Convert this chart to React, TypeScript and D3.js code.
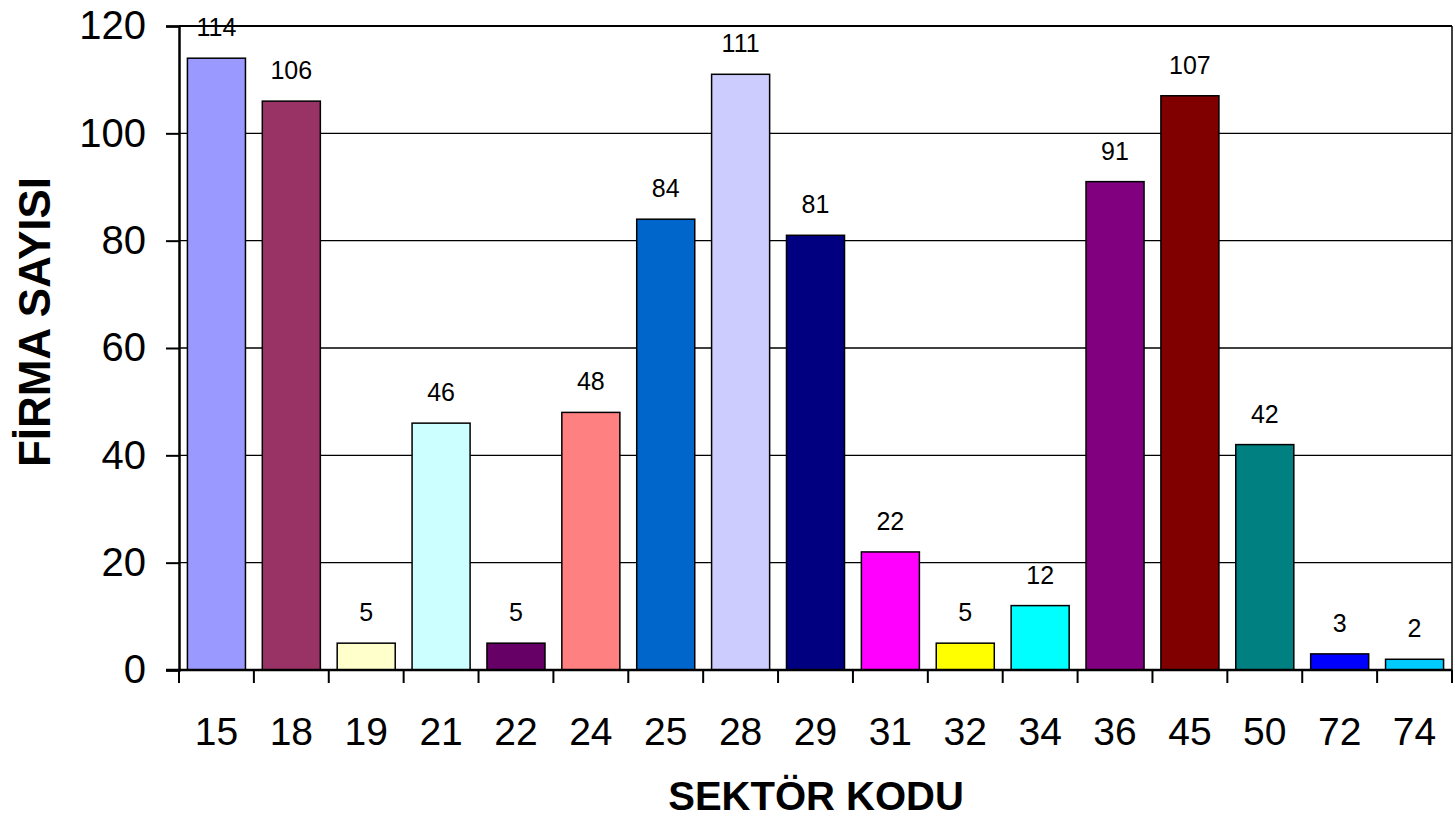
import React, { useRef, useEffect } from 'react';
import * as d3 from 'd3';

const sectors = ['15', '18', '19', '21', '22', '24', '25', '28', '29', '31', '32', '34', '36', '45', '50', '72', '74'];
const firmCounts = [114, 106, 5, 46, 5, 48, 84, 111, 81, 22, 5, 12, 91, 107, 42, 3, 2];
const barColors = ['#9999FF', '#993366', '#FFFFCC', '#CCFFFF', '#660066', '#FF8080', '#0066CC', '#CCCCFF', '#000080', '#FF00FF', '#FFFF00', '#00FFFF', '#800080', '#800000', '#008080', '#0000FF', '#00CCFF'];
const yTicks = [0, 20, 40, 60, 80, 100, 120];

const App = () => {
    const svgRef = useRef<SVGSVGElement>(null);
    const width = 1455;
    const height = 820;

    useEffect(() => {
        document.body.style.margin = '0';
        const svg = d3.select(svgRef.current)
            .attr('width', width)
            .attr('height', height);

        svg.selectAll('*').remove();

        const margin = { top: 26, right: 3, bottom: 150, left: 179 };
        const innerWidth = width - margin.left - margin.right;
        const innerHeight = height - margin.top - margin.bottom;
        const font = 'Liberation Sans, Arial, sans-serif';

        const g = svg.append('g')
            .attr('transform', `translate(${margin.left}, ${margin.top})`);

        const data = sectors.map((s, i) => ({ sector: s, value: firmCounts[i], color: barColors[i] }));

        const xScale = d3.scaleBand()
            .domain(sectors)
            .range([0, innerWidth])
            .paddingInner(0.225)
            .paddingOuter(0.1125);

        const yScale = d3.scaleLinear()
            .domain([0, 120])
            .range([innerHeight, 0]);

        // gridlines
        g.selectAll('.grid')
            .data(yTicks.filter(t => t > 0))
            .enter()
            .append('line')
            .attr('x1', 0)
            .attr('x2', innerWidth)
            .attr('y1', d => yScale(d))
            .attr('y2', d => yScale(d))
            .attr('stroke', '#000')
            .attr('stroke-width', d => d === 120 ? 2 : 1.3);

        // right border
        g.append('line')
            .attr('x1', innerWidth).attr('x2', innerWidth)
            .attr('y1', 0).attr('y2', innerHeight)
            .attr('stroke', '#000')
            .attr('stroke-width', 1.5);

        // bars
        g.selectAll('.bar')
            .data(data)
            .enter()
            .append('rect')
            .attr('x', d => xScale(d.sector)!)
            .attr('y', d => yScale(d.value))
            .attr('width', xScale.bandwidth())
            .attr('height', d => innerHeight - yScale(d.value))
            .attr('fill', d => d.color)
            .attr('stroke', '#000')
            .attr('stroke-width', 1.5);

        // value labels
        g.selectAll('.label')
            .data(data)
            .enter()
            .append('text')
            .attr('x', d => xScale(d.sector)! + xScale.bandwidth() / 2)
            .attr('y', d => yScale(d.value) - 22)
            .attr('text-anchor', 'middle')
            .attr('font-family', font)
            .attr('font-size', 25)
            .text(d => d.value);

        // y axis
        const yAxis = d3.axisLeft(yScale)
            .tickValues(yTicks)
            .tickSize(13)
            .tickPadding(20);

        const yg = g.append('g').call(yAxis);
        yg.select('.domain').attr('stroke-width', 2.5);
        yg.selectAll('.tick line').attr('stroke-width', 2);
        yg.selectAll('.tick text')
            .attr('font-family', font)
            .attr('font-size', 40)
            .attr('fill', '#000');

        // x axis: baseline with boundary ticks
        g.append('line')
            .attr('x1', -13).attr('x2', innerWidth)
            .attr('y1', innerHeight).attr('y2', innerHeight)
            .attr('stroke', '#000')
            .attr('stroke-width', 2.5);

        const boundaries = sectors.map(s => xScale(s)! - xScale.step() * xScale.paddingInner() / 2)
            .concat([innerWidth]);
        g.selectAll('.xtick')
            .data(boundaries)
            .enter()
            .append('line')
            .attr('x1', d => d).attr('x2', d => d)
            .attr('y1', innerHeight).attr('y2', innerHeight + 13)
            .attr('stroke', '#000')
            .attr('stroke-width', 2);

        g.selectAll('.xlabel')
            .data(sectors)
            .enter()
            .append('text')
            .attr('x', d => xScale(d)! + xScale.bandwidth() / 2)
            .attr('y', innerHeight + 75)
            .attr('text-anchor', 'middle')
            .attr('font-family', font)
            .attr('font-size', 39)
            .text(d => d);

        // axis titles
        svg.append('text')
            .attr('x', 816)
            .attr('y', 810)
            .attr('text-anchor', 'middle')
            .attr('font-family', font)
            .attr('font-size', 40)
            .attr('font-weight', 'bold')
            .text('SEKTÖR KODU');

        svg.append('text')
            .attr('transform', 'translate(50, 322) rotate(-90)')
            .attr('text-anchor', 'middle')
            .attr('font-family', font)
            .attr('font-size', 44)
            .attr('font-weight', 'bold')
            .text('FİRMA SAYISI');
    }, []);

    return (
        <svg ref={svgRef} style={{ display: 'block' }}></svg>
    );
};

export default App;
